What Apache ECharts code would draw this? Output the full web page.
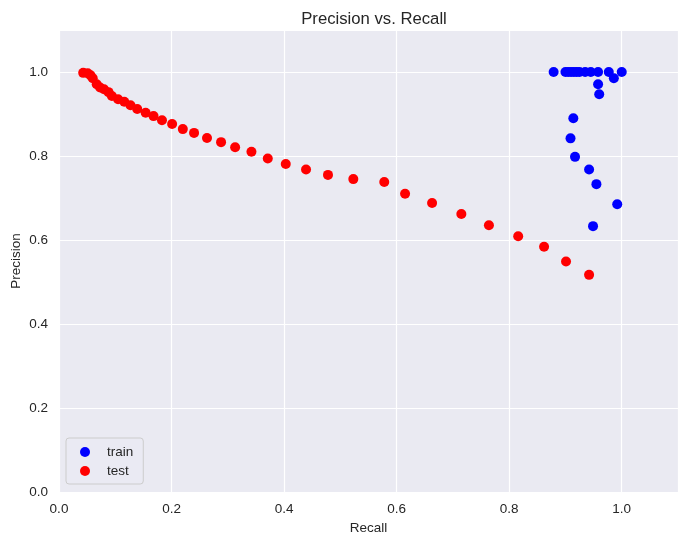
<!DOCTYPE html>
<html>
<head>
<meta charset="utf-8">
<script src="https://cdn.jsdelivr.net/npm/echarts@6/dist/echarts.min.js"></script>
<style>
  html, body { margin: 0; padding: 0; background: #fff; }
  #chart { width: 688px; height: 545px; }
</style>
</head>
<body>
<div id="chart"></div>
<script>
// values
var trainRecall = [0.879, 0.900, 0.905, 0.910, 0.915, 0.920, 0.925, 0.935, 0.945, 0.958, 0.977, 0.986, 1.000,
    0.958, 0.960, 0.914, 0.909, 0.917, 0.942, 0.955, 0.992, 0.949];
var trainPrecision = [1.0, 1.0, 1.0, 1.0, 1.0, 1.0, 1.0, 1.0, 1.0, 1.0, 1.0, 0.985, 1.0,
    0.971, 0.947, 0.890, 0.842, 0.798, 0.768, 0.733, 0.685, 0.633];
var testRecall = [0.043, 0.051, 0.056, 0.060, 0.067, 0.073, 0.080, 0.088, 0.094, 0.105, 0.116, 0.127, 0.139,
    0.154, 0.168, 0.183, 0.201, 0.220, 0.240, 0.263, 0.288, 0.313, 0.342, 0.371, 0.403, 0.439, 0.478,
    0.523, 0.578, 0.615, 0.663, 0.715, 0.764, 0.816, 0.862, 0.901, 0.942];
var testPrecision = [0.998, 0.997, 0.992, 0.985, 0.971, 0.963, 0.959, 0.952, 0.943, 0.935, 0.929, 0.921, 0.912,
    0.903, 0.895, 0.885, 0.876, 0.864, 0.855, 0.843, 0.833, 0.821, 0.810, 0.794, 0.781, 0.768, 0.755,
    0.745, 0.738, 0.710, 0.688, 0.662, 0.635, 0.609, 0.584, 0.549, 0.517];
var seriesNames = ['train', 'test'];

function pairs(xs, ys) {
    var out = [];
    for (var i = 0; i < xs.length; i++) {
        out.push([xs[i], ys[i]]);
    }
    return out;
}

var font = 'Liberation Sans, Arial, sans-serif';
var myChart = echarts.init(document.getElementById('chart'));
var option = {
    animation: false,
    title: {
        text: 'Precision vs. Recall',
        left: 369,
        top: 6,
        textAlign: 'center',
        textStyle: { fontFamily: font, fontSize: 16.7, fontWeight: 'normal', color: '#262626' }
    },
    legend: {
        data: seriesNames,
        orient: 'vertical',
        left: 66,
        top: 438,
        padding: [7, 10, 6, 14],
        itemGap: 5,
        itemWidth: 10,
        itemHeight: 10,
        icon: 'circle',
        backgroundColor: 'rgba(234,234,242,0.8)',
        borderColor: '#cccccc',
        borderWidth: 1,
        borderRadius: 3,
        textStyle: { fontFamily: font, fontSize: 13.5, color: '#262626', padding: [0, 0, 0, 12] }
    },
    grid: {
        left: 59, right: 10, top: 30, bottom: 53,
        outerBoundsMode: 'none',
        containLabel: false,
        show: true,
        backgroundColor: '#EAEAF2',
        borderWidth: 0
    },
    xAxis: {
        type: 'value',
        min: 0, max: 1.1, interval: 0.2,
        name: 'Recall',
        nameLocation: 'middle',
        nameGap: 29,
        nameMoveOverlap: false,
        nameTextStyle: { fontFamily: font, fontSize: 13.5, color: '#262626' },
        axisLine: { show: false },
        axisTick: { show: false },
        axisLabel: {
            fontFamily: font, fontSize: 13.5, color: '#262626', margin: 10,
            showMaxLabel: false,
            formatter: function (v) { return v.toFixed(1); }
        },
        splitLine: { show: true, lineStyle: { color: '#ffffff', width: 1.2 } }
    },
    yAxis: {
        type: 'value',
        min: 0, max: 1.1, interval: 0.2,
        name: 'Precision',
        nameLocation: 'middle',
        nameGap: 36,
        nameMoveOverlap: false,
        nameTextStyle: { fontFamily: font, fontSize: 13.5, color: '#262626' },
        axisLine: { show: false },
        axisTick: { show: false },
        axisLabel: {
            fontFamily: font, fontSize: 13.5, color: '#262626', margin: 11,
            showMaxLabel: false,
            formatter: function (v) { return v.toFixed(1); }
        },
        splitLine: { show: true, lineStyle: { color: '#ffffff', width: 1.2 } }
    },
    series: [
        {
            name: seriesNames[0],
            type: 'scatter',
            symbolSize: 10,
            itemStyle: { color: '#0000ff', opacity: 1 },
            data: pairs(trainRecall, trainPrecision)
        },
        {
            name: seriesNames[1],
            type: 'scatter',
            symbolSize: 10,
            itemStyle: { color: '#ff0000', opacity: 1 },
            data: pairs(testRecall, testPrecision)
        }
    ]
};
myChart.setOption(option);
</script>
</body>
</html>
